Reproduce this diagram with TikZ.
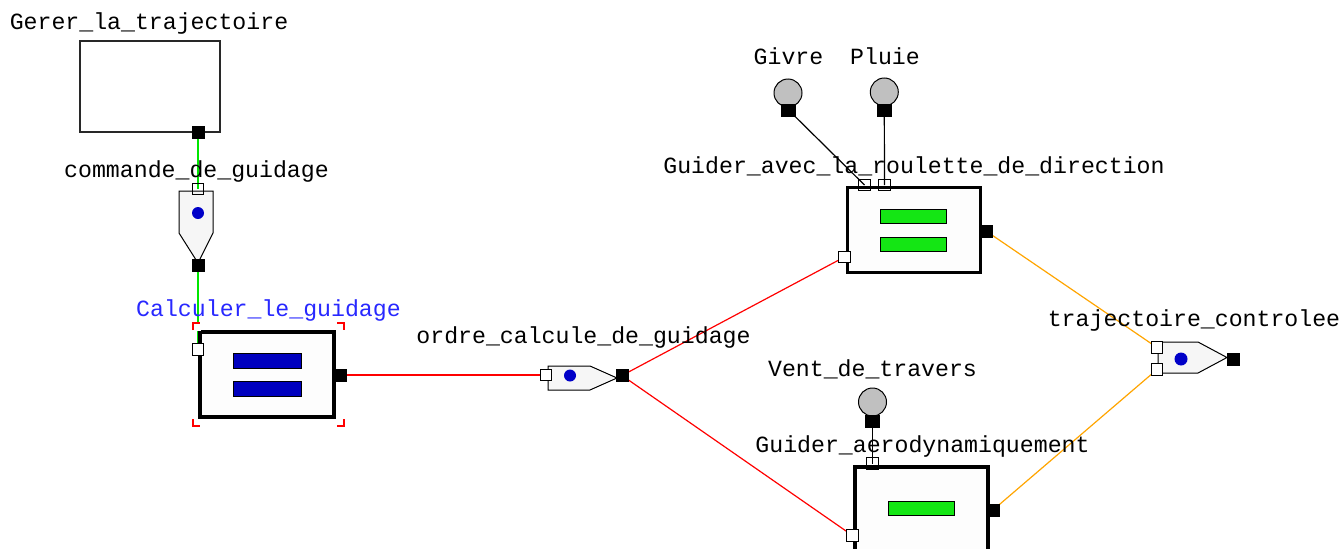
\documentclass[tikz,border=0pt]{standalone}
\usepackage{fontspec}
\setmonofont{Liberation Mono}
\usetikzlibrary{backgrounds}
\definecolor{lblblue}{RGB}{40,40,255}
\definecolor{portblue}{RGB}{0,0,200}
\definecolor{barblue}{RGB}{0,0,190}
\definecolor{bargreen}{RGB}{20,230,20}
\definecolor{lgreen}{RGB}{0,230,0}
\definecolor{lred}{RGB}{255,0,0}
\definecolor{lorange}{RGB}{255,165,0}
\definecolor{srcgray}{RGB}{192,192,192}
\definecolor{flowfill}{RGB}{246,246,246}
\tikzset{
  x=1pt, y=-1pt,
  lbl/.style={anchor=base, inner sep=0pt, font=\ttfamily\fontsize{23.2}{26}\selectfont},
  funcbox/.style={draw=black, line width=3.2pt, fill={rgb,255:red,253;green,253;blue,253}, inner sep=0pt},
  thinbox/.style={draw={rgb,255:red,40;green,40;blue,40}, line width=1.5pt, fill=white, inner sep=0pt},
  inport/.style={draw=black, line width=1pt, fill=none, minimum size=11.5pt, inner sep=0pt},
  outport/.style={draw=black, fill=black, minimum size=12pt, inner sep=0pt},
  flowshape/.style={draw=black, line width=1pt, fill=flowfill},
  dotmark/.style={circle, fill=portblue, minimum size=12pt, inner sep=0pt},
  srccircle/.style={circle, draw=black, line width=1pt, fill=srcgray, minimum size=28pt, inner sep=0pt},
  srcport/.style={draw=black, fill=black, minimum width=14pt, minimum height=12pt, inner sep=0pt},
  bar/.style={draw=black, line width=0.8pt, inner sep=0pt},
  selmark/.style={draw=red, line width=2.2pt},
  wire/.style={line width=1.2pt}
}
\begin{document}
\begin{tikzpicture}
\useasboundingbox (0,0) rectangle (1342,549);

% ---------- Gerer_la_trajectoire ----------
\node[thinbox, minimum width=140pt, minimum height=91pt] (gerer) at (150,86.5) {};
\node[lbl] (gererlbl) at (149,29) {Gerer\_la\_trajectoire};
\node[outport] (gererout) at (198,132) {};

% ---------- commande_de_guidage ----------
\draw[flowshape] (179,191) -- (213,191) -- (213,233) -- (198,263) -- (179,233) -- cycle;
\node[dotmark] (cmddot) at (198,213) {};
\node[inport] (cmdin) at (198,189) {};
\node[outport] (cmdout) at (198,265) {};
\node[lbl] (cmdlbl) at (196.5,177) {commande\_de\_guidage};

% ---------- Calculer_le_guidage ----------
\node[funcbox, minimum width=134pt, minimum height=85pt] (calc) at (267,374.5) {};
\node[bar, fill=barblue, minimum width=68pt, minimum height=15pt] (calcbar1) at (267,360.5) {};
\node[bar, fill=barblue, minimum width=68pt, minimum height=15pt] (calcbar2) at (267,388.5) {};
\node[inport, fill=white] (calcin) at (198,349.5) {};
\node[outport] (calcout) at (340,375) {};
\node[lbl, text=lblblue] (calclbl) at (268.5,316.5) {Calculer\_le\_guidage};
\fill[white] (195,323) rectangle (201,331);
\draw[selmark] (193,330) -- (193,323) -- (200,323);
\draw[selmark] (337,323) -- (344,323) -- (344,330);
\draw[selmark] (193,419) -- (193,426) -- (200,426);
\draw[selmark] (337,426) -- (344,426) -- (344,419);

% ---------- ordre_calcule_de_guidage ----------
\draw[flowshape] (548,366) -- (590,366) -- (617,378) -- (590,390) -- (548,390) -- cycle;
\node[dotmark] (orddot) at (570,375.5) {};
\node[inport, fill=white] (ordin) at (546,375) {};
\node[outport] (ordout) at (622,375.5) {};
\node[lbl] (ordlbl) at (583.5,343) {ordre\_calcule\_de\_guidage};

% ---------- Sources ----------
\node[srccircle] (givre) at (788,93) {};
\node[srcport] (givreout) at (788.5,110) {};
\node[lbl] (givrelbl) at (788.5,64) {Givre};
\node[srccircle] (pluie) at (884.3,92) {};
\node[srcport] (pluieout) at (884.3,110) {};
\node[lbl] (pluielbl) at (885,64) {Pluie};
\node[srccircle] (vent) at (872.5,402) {};
\node[srcport] (ventout) at (872.5,421) {};
\node[lbl] (ventlbl) at (872.5,376) {Vent\_de\_travers};

% ---------- Guider_avec_la_roulette_de_direction ----------
\node[funcbox, minimum width=133pt, minimum height=85pt] (gav) at (914,230) {};
\node[bar, fill=bargreen, minimum width=66pt, minimum height=14pt] (gavbar1) at (913.5,216.5) {};
\node[bar, fill=bargreen, minimum width=66pt, minimum height=14pt] (gavbar2) at (913.5,244.5) {};
\node[inport] (gavin1) at (864.5,185) {};
\node[inport] (gavin2) at (884.5,185) {};
\node[inport, fill=white] (gavin) at (844.5,257) {};
\node[outport] (gavout) at (986,231) {};
\node[lbl] (gavlbl) at (914,173.5) {Guider\_avec\_la\_roulette\_de\_direction};

% ---------- Guider_aerodynamiquement ----------
\node[funcbox, minimum width=133pt, minimum height=85pt] (gaero) at (921.5,509.5) {};
\node[bar, fill=bargreen, minimum width=66pt, minimum height=14pt] (gaerobar) at (921.5,508.5) {};
\node[inport] (gaeroin1) at (872.5,463.5) {};
\node[inport, fill=white] (gaeroin) at (852.5,535.5) {};
\node[outport] (gaeroout) at (993,510) {};
\node[lbl] (gaerolbl) at (922.5,452) {Guider\_aerodynamiquement};

% ---------- trajectoire_controlee ----------
\draw[flowshape] (1158,342) -- (1198,342) -- (1227,357.5) -- (1198,373) -- (1158,373) -- cycle;
\node[dotmark, minimum size=13pt] (trdot) at (1181,359) {};
\node[inport, fill=white] (trin1) at (1157,347.5) {};
\node[inport, fill=white] (trin2) at (1157,369.5) {};
\node[outport] (trout) at (1233,359) {};
\node[lbl] (trlbl) at (1194,326) {trajectoire\_controlee};

% ---------- connectors ----------
\begin{pgfonlayer}{background}
\fill[white] (0,0) rectangle (1342,549);
\draw[wire, lgreen] (gererout.center) -- (cmdin.center);
\draw[wire, lgreen] (cmdout.center) -- (calcin.center);
\draw[wire, lred] (calcout.center) -- (ordin.center);
\draw[wire, lred] (ordout.center) -- (gavin.center);
\draw[wire, lred] (ordout.center) -- (gaeroin.center);
\draw[wire, black] (givreout.center) -- (gavin1.center);
\draw[wire, black] (pluieout.center) -- (gavin2.center);
\draw[wire, black] (ventout.center) -- (gaeroin1.center);
\draw[wire, lorange] (gavout.center) -- (trin1.center);
\draw[wire, lorange] (gaeroout.center) -- (trin2.center);
\end{pgfonlayer}
\end{tikzpicture}
\end{document}
